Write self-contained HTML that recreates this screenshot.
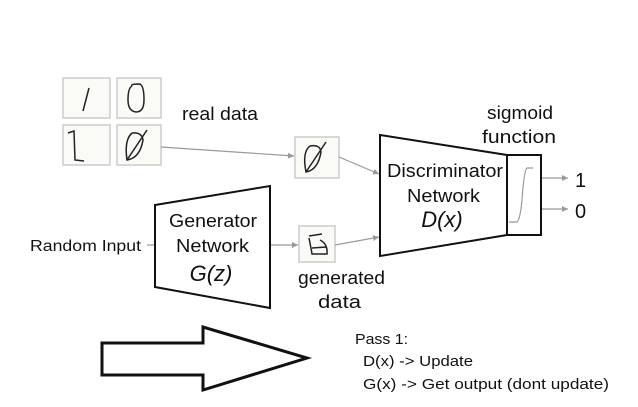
<!DOCTYPE html>
<html><head><style>
body{margin:0;background:#fff;}
svg text{font-family:"Liberation Sans",sans-serif;}
</style></head><body>
<svg width="638" height="402" viewBox="0 0 638 402" xmlns="http://www.w3.org/2000/svg">
<defs><marker id="a" markerWidth="6" markerHeight="6" refX="5" refY="3" orient="auto"><path d="M0,0.5 L5,3 L0,5.5z" fill="#999"/></marker></defs>
<g fill="#fafaf6" stroke="#ccc" stroke-width="1.5">
<rect x="63" y="78" width="47" height="40"/><rect x="117" y="78" width="44" height="40"/>
<rect x="63" y="125" width="47" height="40"/><rect x="117" y="125" width="44" height="40"/>
<rect x="295" y="137" width="44" height="41"/><rect x="299" y="226" width="36" height="36"/>
</g>
<g fill="none" stroke="#222" stroke-width="1.5">
<path d="M89,88 L83,111"/><path d="M132,86 Q130,84 140,84 Q144,86 144,100 Q144,112 136,112 Q128,111 128,100 Q128,88 132,86"/>
<path d="M68,133 L74,131 L75,160 L84,161"/>
<path d="M132,133 Q124,140 127,160 Q140,158 143,140 Q142,132 132,133 M127,160 L147,130"/>
<path d="M310,146 Q302,152 306,172 Q318,170 321,152 Q320,144 310,146 M306,172 L326,142"/>
<path d="M309,236 L322,234 M309,238 Q311,248 312,254 L327,254 Q328,244 320,240 M312,248 L326,247"/>
</g>
<g stroke="#999" stroke-width="1.2" fill="none">
<line x1="161" y1="147" x2="294" y2="156" marker-end="url(#a)"/>
<line x1="339" y1="157" x2="379" y2="174" marker-end="url(#a)"/>
<line x1="335" y1="245" x2="379" y2="237" marker-end="url(#a)"/>
<line x1="270" y1="245" x2="298" y2="245" marker-end="url(#a)"/>
<line x1="147" y1="245" x2="155" y2="245"/>
<line x1="541" y1="178" x2="568" y2="178" marker-end="url(#a)"/>
<line x1="541" y1="209" x2="568" y2="209" marker-end="url(#a)"/>
<path d="M509,222 L517,222 Q520,220 522,200 Q524,170 527,168 L533,168"/>
</g>
<g fill="none" stroke="#111" stroke-width="2">
<path d="M155,205 L270,186 L270,308 L155,287 Z"/>
<path d="M380,135 L507,155 L507,235 L380,256 Z"/>
<rect x="507" y="155" width="34" height="80"/>
<path d="M102,343 L203,343 L203,327 L307,358 L203,390 L203,375 L102,375 Z" stroke-width="3"/>
</g>
<g font-size="18" fill="#111">
<text x="182" y="120" textLength="76" lengthAdjust="spacingAndGlyphs">real data</text>
<text x="487" y="119" textLength="66" lengthAdjust="spacingAndGlyphs">sigmoid</text>
<text x="482" y="143" textLength="74" lengthAdjust="spacingAndGlyphs">function</text>
<text x="387" y="177" textLength="116" lengthAdjust="spacingAndGlyphs">Discriminator</text>
<text x="407" y="202" textLength="73" lengthAdjust="spacingAndGlyphs">Network</text>
<text x="169" y="227" textLength="88" lengthAdjust="spacingAndGlyphs">Generator</text>
<text x="176" y="252" textLength="73" lengthAdjust="spacingAndGlyphs">Network</text>
<text x="30" y="251" font-size="16" textLength="111" lengthAdjust="spacingAndGlyphs">Random Input</text>
<text x="298" y="284" textLength="87" lengthAdjust="spacingAndGlyphs">generated</text>
<text x="318" y="308" textLength="43" lengthAdjust="spacingAndGlyphs">data</text>
<text x="575" y="187" font-size="20">1</text>
<text x="575" y="218" font-size="20">0</text>
<text x="442" y="227" text-anchor="middle" font-family="Liberation Serif" font-style="italic" font-size="22">D(x)</text>
<text x="211" y="281" text-anchor="middle" font-family="Liberation Serif" font-style="italic" font-size="22">G(z)</text>
<g font-size="15">
<text x="355" y="344" textLength="53" lengthAdjust="spacingAndGlyphs">Pass 1:</text>
<text x="363" y="366" textLength="110" lengthAdjust="spacingAndGlyphs">D(x) -&gt; Update</text>
<text x="363" y="389" textLength="246" lengthAdjust="spacingAndGlyphs">G(x) -&gt; Get output (dont update)</text>
</g>
</g>
</svg>
</body></html>
